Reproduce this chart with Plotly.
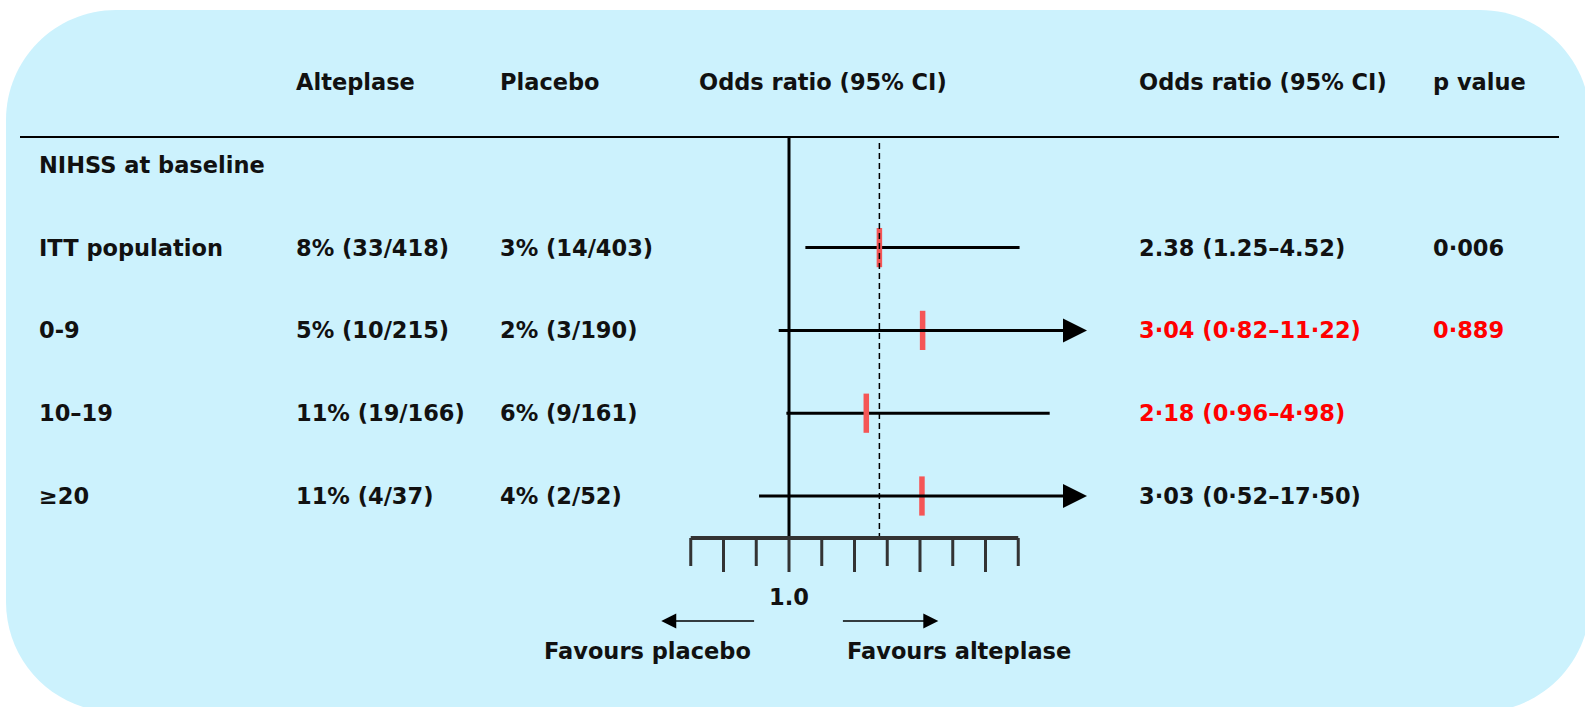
import plotly.graph_objects as go

W, H = 1585, 707

# ---------------- data ----------------
headers = ["Alteplase", "Placebo", "Odds ratio (95% CI)", "Odds ratio (95% CI)", "p value"]
section_label = "NIHSS at baseline"
groups = ["ITT population", "0-9", "10–19", "≥20"]
alteplase = ["8% (33/418)", "5% (10/215)", "11% (19/166)", "11% (4/37)"]
placebo = ["3% (14/403)", "2% (3/190)", "6% (9/161)", "4% (2/52)"]
or_est = [2.38, 3.04, 2.18, 3.03]
ci_low = [1.25, 0.82, 0.96, 0.52]
ci_high = [4.52, 11.22, 4.98, 17.50]
or_text = ["2.38 (1.25–4.52)", "3·04 (0·82–11·22)", "2·18 (0·96–4·98)", "3·03 (0·52–17·50)"]
p_text = ["0·006", "0·889", "", ""]
or_red = [False, True, True, False]
p_red = [False, True, False, False]
scale_ticks = [-0.5, 0, 0.5, 1, 1.5, 2, 2.5, 3, 3.5, 4, 4.5]
ref_value = 1.0
display_max = 5.55
favours = ["Favours placebo", "Favours alteplase"]

# ---------------- layout helpers ----------------
REF_PX, PX_PER_UNIT = 789, 65.5          # x scale of the forest panel
ROW0_PX, ROW_PX = 82, 82.8               # y position of row 0 and row spacing
x_range = [ref_value - REF_PX / PX_PER_UNIT, ref_value + (W - REF_PX) / PX_PER_UNIT]
y_range = [(H - ROW0_PX) / ROW_PX, -ROW0_PX / ROW_PX]


def px(x):
    return x / W


def row_of(ypx):
    return (ypx - ROW0_PX) / ROW_PX


FONT = "DejaVu Sans"
FS = 22.5
BLACK = "#111111"
RED = "#FF0000"
BG = "#CCF2FD"

fig = go.Figure()

# confidence intervals
rows = [2 + i for i in range(len(groups))]
annotations = []
for i, r in enumerate(rows):
    hi = min(ci_high[i], display_max)
    if ci_high[i] > display_max:
        annotations.append(dict(x=display_max, y=r, xref="x", yref="y",
                                ax=ci_low[i], ay=r, axref="x", ayref="y",
                                text="", showarrow=True, arrowhead=2,
                                arrowsize=1.6, arrowwidth=3, arrowcolor="black",
                                standoff=0, startstandoff=0))
    else:
        fig.add_trace(go.Scatter(x=[ci_low[i], hi], y=[r, r], mode="lines",
                                 line=dict(color="black", width=3),
                                 hoverinfo="skip", showlegend=False))

# point estimates
fig.add_trace(go.Scatter(x=or_est, y=rows, mode="markers",
                         marker=dict(symbol="line-ns", size=28,
                                     line=dict(color="#F55656", width=5.5)),
                         showlegend=False))

# ---------------- texts ----------------
def txt(x, y, s, color=BLACK, anchor="left", size=FS, xref="paper"):
    annotations.append(dict(x=x, y=y, xref=xref, yref="y", text=s, showarrow=False,
                            xanchor=anchor, yanchor="middle",
                            font=dict(family=FONT, size=size, color=color, weight="bold")))

txt(px(294), 0, headers[0])
txt(px(498), 0, headers[1])
txt(px(823), 0, headers[2], anchor="center")
txt(px(1137), 0, headers[3])
txt(px(1431), 0, headers[4])
txt(px(37), 1, section_label)
for i, r in enumerate(rows):
    txt(px(37), r, groups[i])
    txt(px(294), r, alteplase[i])
    txt(px(498), r, placebo[i])
    txt(px(1137), r, or_text[i], color=RED if or_red[i] else BLACK)
    if p_text[i]:
        txt(px(1431), r, p_text[i], color=RED if p_red[i] else BLACK)

txt(ref_value, row_of(597), "1.0", anchor="center", xref="x")
txt(px(647), row_of(651), favours[0], anchor="center")
txt(px(959), row_of(651), favours[1], anchor="center")

# favours arrows
arrow_y = row_of(621)
for tail, tip in [(0.49, -0.95), (1.80, 3.28)]:
    annotations.append(dict(x=tip, y=arrow_y, xref="x", yref="y",
                            ax=tail, ay=arrow_y, axref="x", ayref="y",
                            text="", showarrow=True, arrowhead=2, arrowsize=2,
                            arrowwidth=1.5, arrowcolor="black", standoff=0,
                            startstandoff=0))

# ---------------- shapes ----------------
shapes = []
# rounded background panel
x0, y0, x1, y1, rr = 6, 10, 1590, 712, 110
k = 0.5523 * rr


def P(x, y):
    return f"{px(x):.5f},{1 - y / H:.5f}"


path = (f"M{P(x0 + rr, y0)} L{P(x1 - rr, y0)} "
        f"C{P(x1 - rr + k, y0)} {P(x1, y0 + rr - k)} {P(x1, y0 + rr)} "
        f"L{P(x1, y1 - rr)} "
        f"C{P(x1, y1 - rr + k)} {P(x1 - rr + k, y1)} {P(x1 - rr, y1)} "
        f"L{P(x0 + rr, y1)} "
        f"C{P(x0 + rr - k, y1)} {P(x0, y1 - rr + k)} {P(x0, y1 - rr)} "
        f"L{P(x0, y0 + rr)} "
        f"C{P(x0, y0 + rr - k)} {P(x0 + rr - k, y0)} {P(x0 + rr, y0)} Z")
shapes.append(dict(type="path", path=path, xref="paper", yref="paper",
                   fillcolor=BG, line=dict(width=0), layer="below"))

rule_row = row_of(137)
axis_row = row_of(538)
shapes.append(dict(type="line", xref="paper", yref="y", x0=px(20), x1=px(1559),
                   y0=rule_row, y1=rule_row, line=dict(color="black", width=2)))
# line of no effect
shapes.append(dict(type="line", xref="x", yref="y", x0=ref_value, x1=ref_value,
                   y0=rule_row, y1=axis_row, line=dict(color="black", width=3)))
# overall estimate (dashed)
shapes.append(dict(type="line", xref="x", yref="y", x0=or_est[0], x1=or_est[0],
                   y0=row_of(143), y1=row_of(543),
                   line=dict(color="black", width=1.5, dash="6px,4px")))
# scale bar
shapes.append(dict(type="line", xref="x", yref="y", x0=scale_ticks[0], x1=scale_ticks[-1],
                   y0=axis_row, y1=axis_row, line=dict(color="#333333", width=4)))
for t in scale_ticks:
    long_tick = float(t).is_integer()
    shapes.append(dict(type="line", xref="x", yref="y", ysizemode="pixel", yanchor=axis_row,
                       x0=t, x1=t, y0=0, y1=-34 if long_tick else -28,
                       line=dict(color="#333333", width=3)))

fig.update_layout(
    width=W, height=H, margin=dict(l=0, r=0, t=0, b=0),
    paper_bgcolor="white", plot_bgcolor="rgba(0,0,0,0)",
    xaxis=dict(range=x_range, visible=False, fixedrange=True),
    yaxis=dict(range=y_range, visible=False, fixedrange=True),
    shapes=shapes, annotations=annotations, showlegend=False,
    font=dict(family=FONT, size=FS, color=BLACK),
)

fig.write_html("out.html", config={"displayModeBar": False},
               post_script="document.body.style.margin='0';document.body.style.overflow='hidden';")
